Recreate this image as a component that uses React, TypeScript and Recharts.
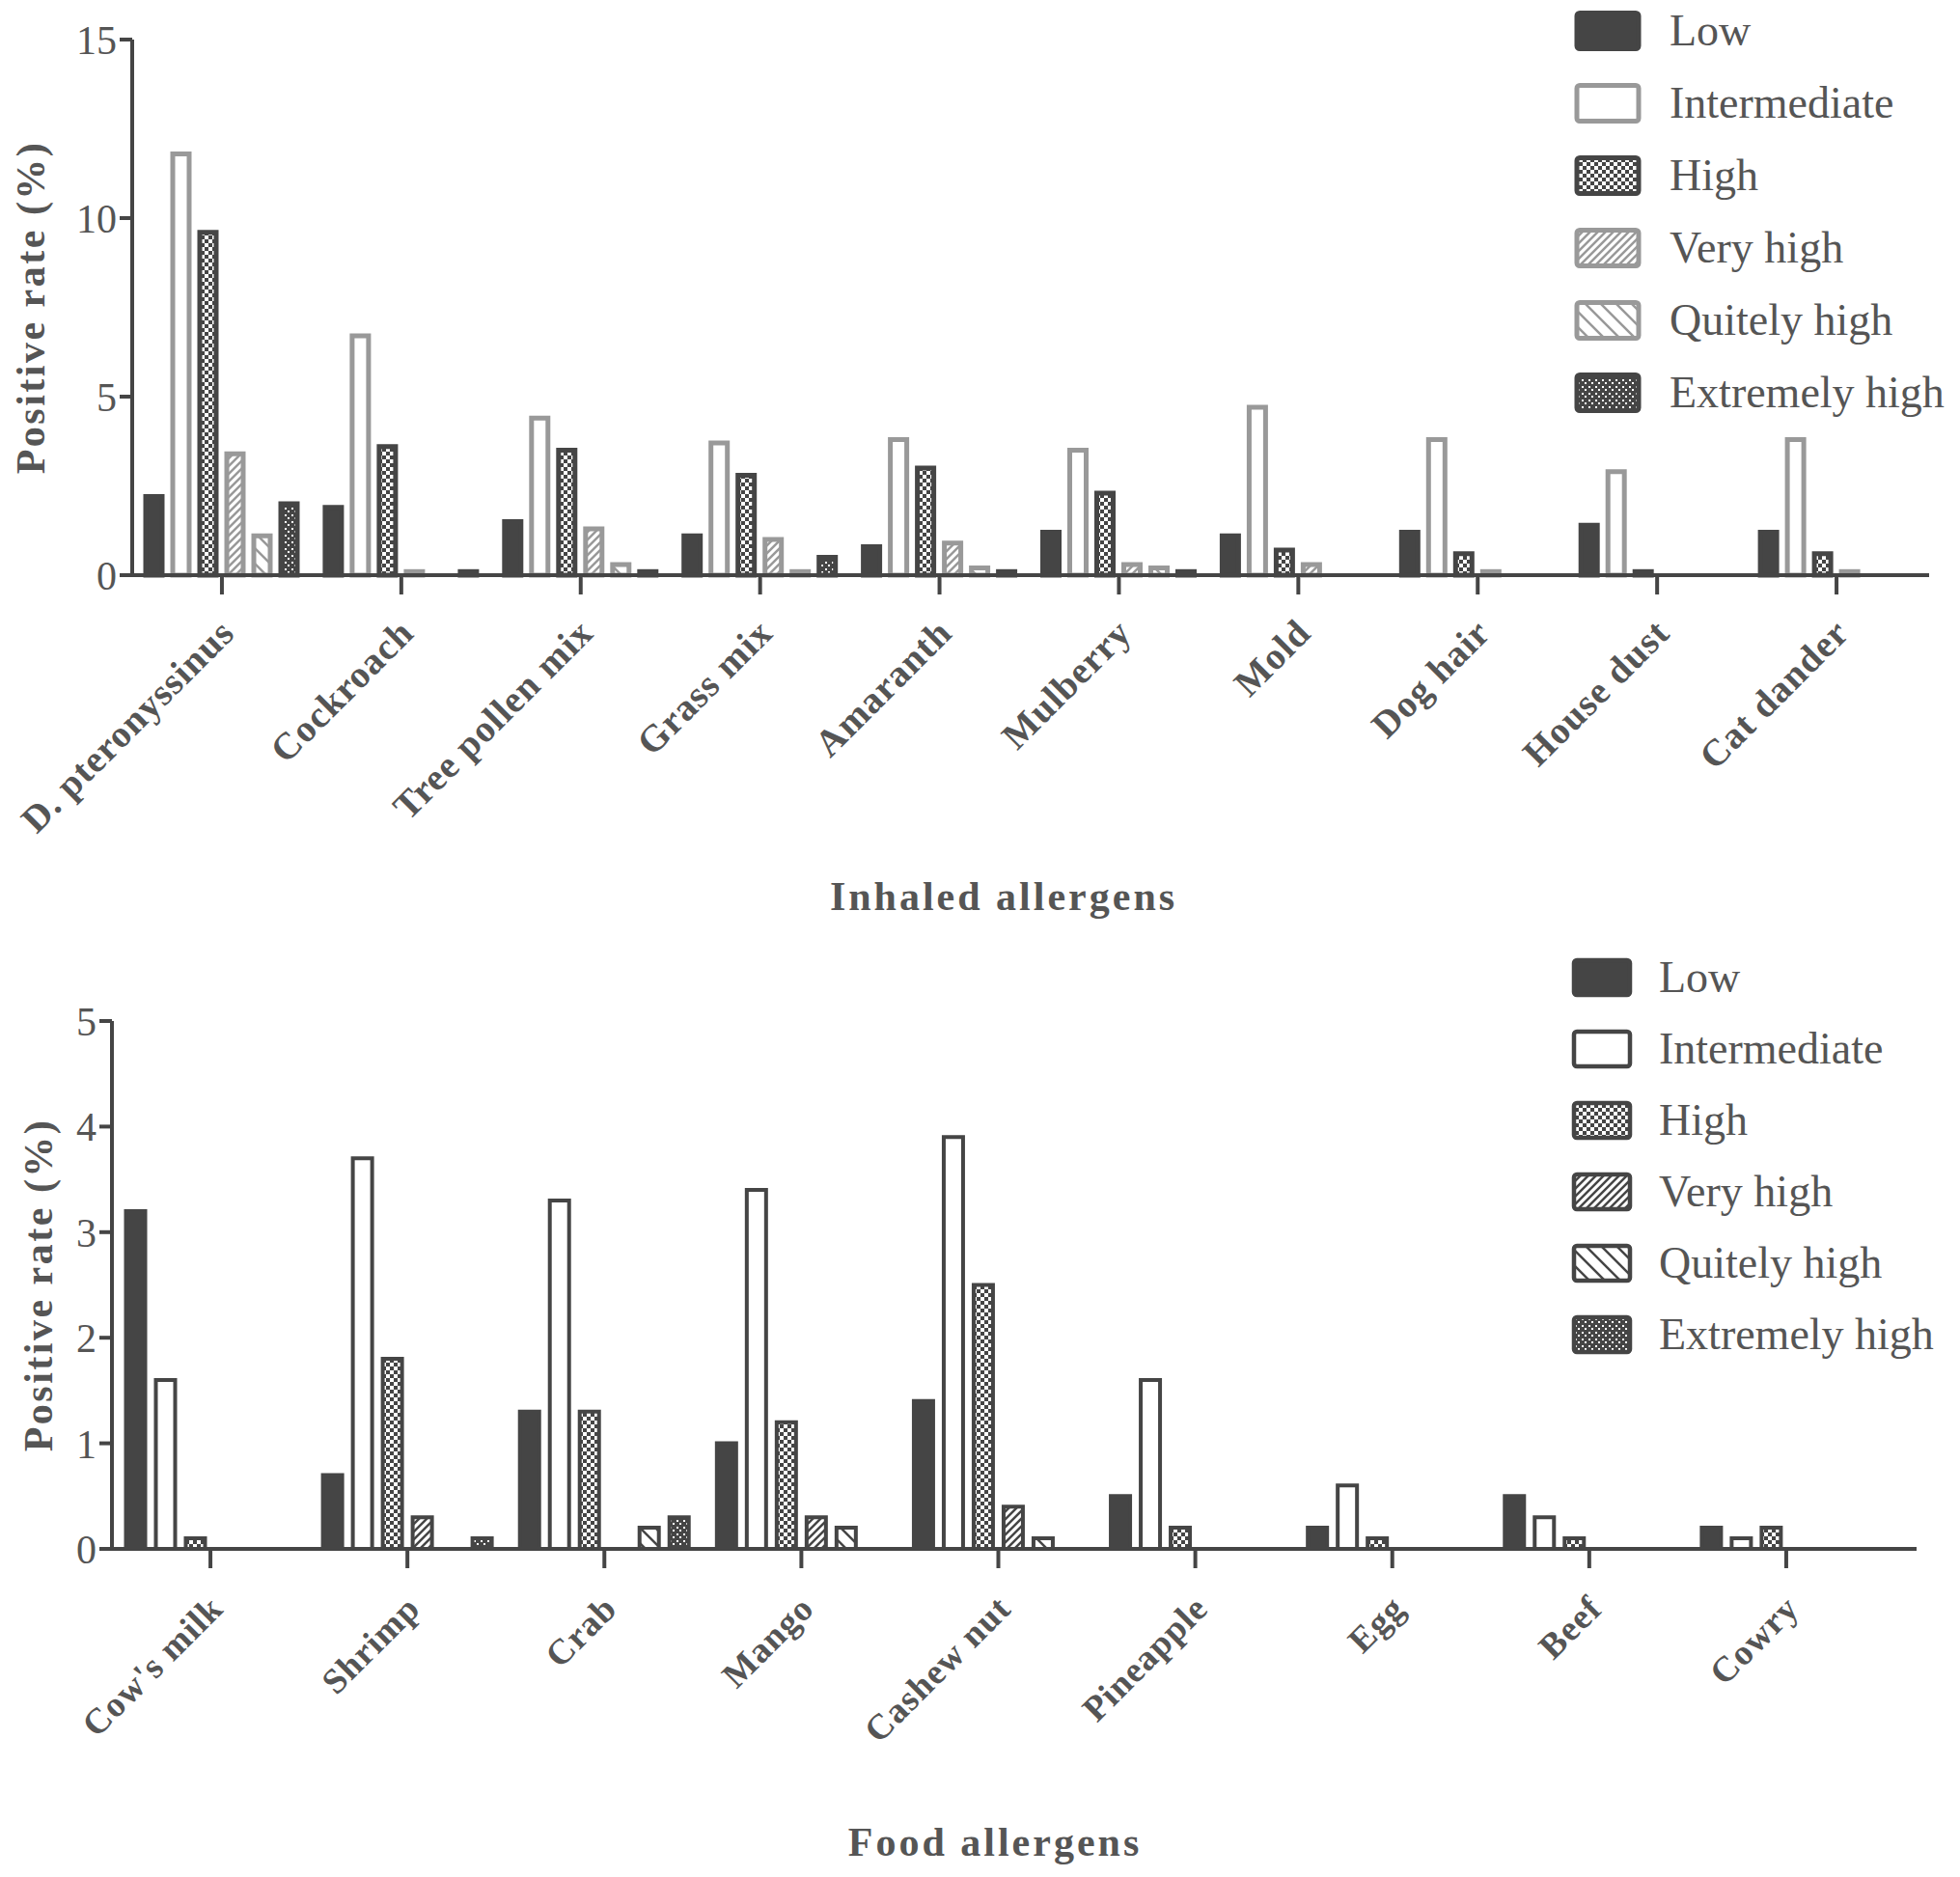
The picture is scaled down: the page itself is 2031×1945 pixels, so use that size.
import React from 'react';
import { BarChart, Bar, XAxis, YAxis } from 'recharts';

const seriesNames = ['Low', 'Intermediate', 'High', 'Very high', 'Quitely high', 'Extremely high'];
const seriesKeys = ['low', 'intermediate', 'high', 'veryHigh', 'quitelyHigh', 'extremelyHigh'];

const inhaledCategories = ['D. pteronyssinus', 'Cockroach', 'Tree pollen mix', 'Grass mix', 'Amaranth', 'Mulberry', 'Mold', 'Dog hair', 'House dust', 'Cat dander'];
const inhaledLow = [2.2, 1.9, 1.5, 1.1, 0.8, 1.2, 1.1, 1.2, 1.4, 1.2];
const inhaledIntermediate = [11.8, 6.7, 4.4, 3.7, 3.8, 3.5, 4.7, 3.8, 2.9, 3.8];
const inhaledHigh = [9.6, 3.6, 3.5, 2.8, 3.0, 2.3, 0.7, 0.6, 0.1, 0.6];
const inhaledVeryHigh = [3.4, 0.1, 1.3, 1.0, 0.9, 0.3, 0.3, 0.1, 0, 0.1];
const inhaledQuitelyHigh = [1.1, 0, 0.3, 0.1, 0.2, 0.2, 0, 0, 0, 0];
const inhaledExtremelyHigh = [2.0, 0.1, 0.1, 0.5, 0.1, 0.1, 0, 0, 0, 0];
const inhaledTicks = [0, 5, 10, 15];

const foodCategories = ["Cow's milk", 'Shrimp', 'Crab', 'Mango', 'Cashew nut', 'Pineapple', 'Egg', 'Beef', 'Cowry'];
const foodLow = [3.2, 0.7, 1.3, 1.0, 1.4, 0.5, 0.2, 0.5, 0.2];
const foodIntermediate = [1.6, 3.7, 3.3, 3.4, 3.9, 1.6, 0.6, 0.3, 0.1];
const foodHigh = [0.1, 1.8, 1.3, 1.2, 2.5, 0.2, 0.1, 0.1, 0.2];
const foodVeryHigh = [0, 0.3, 0, 0.3, 0.4, 0, 0, 0, 0];
const foodQuitelyHigh = [0, 0, 0.2, 0.2, 0.1, 0, 0, 0, 0];
const foodExtremelyHigh = [0, 0.1, 0.3, 0, 0, 0, 0, 0, 0];
const foodTicks = [0, 1, 2, 3, 4, 5];

const buildRows = (cats: string[], cols: number[][]) =>
  cats.map((name, i) => {
    const row: any = { name };
    seriesKeys.forEach((k, j) => (row[k] = cols[j][i]));
    return row;
  });

const inhaledData = buildRows(inhaledCategories, [inhaledLow, inhaledIntermediate, inhaledHigh, inhaledVeryHigh, inhaledQuitelyHigh, inhaledExtremelyHigh]);
const foodData = buildRows(foodCategories, [foodLow, foodIntermediate, foodHigh, foodVeryHigh, foodQuitelyHigh, foodExtremelyHigh]);

const DARK = '#454545';
const GRAY = '#999999';
const TEXT = '#555555';
const FONT = '"Liberation Serif", "Times New Roman", serif';

const topStyles = [
  { fill: DARK, stroke: DARK },
  { fill: '#ffffff', stroke: GRAY },
  { fill: 'url(#hiPat)', stroke: DARK },
  { fill: 'url(#vhGray)', stroke: GRAY },
  { fill: 'url(#qhGray)', stroke: GRAY },
  { fill: 'url(#ehPat)', stroke: DARK },
];
const bottomStyles = [
  { fill: DARK, stroke: DARK },
  { fill: '#ffffff', stroke: DARK },
  { fill: 'url(#hiPat)', stroke: DARK },
  { fill: 'url(#vhDark)', stroke: DARK },
  { fill: 'url(#qhDark)', stroke: DARK },
  { fill: 'url(#ehPat)', stroke: DARK },
];

const RotTick = (props: any) => {
  const { x, y, payload, fs, ls, oy } = props;
  return (
    <g transform={`translate(${x},${y})`}>
      <text
        transform={`translate(15,${oy}) rotate(-45)`}
        textAnchor="end"
        fontFamily={FONT}
        fontWeight="bold"
        fontSize={fs}
        fill={TEXT}
        letterSpacing={ls}
      >
        {payload.value}
      </text>
    </g>
  );
};

const YLabel = (props: any) => {
  const { viewBox, text, lx } = props;
  const cy = viewBox.y + viewBox.height / 2;
  return (
    <text
      transform={`translate(${lx},${cy}) rotate(-90)`}
      textAnchor="middle"
      dominantBaseline="central"
      fontFamily={FONT}
      fontWeight="bold"
      fontSize={42}
      fill={TEXT}
      letterSpacing={2.5}
    >
      {text}
    </text>
  );
};

const XLabel = (props: any) => {
  const { viewBox, text, dx, ly } = props;
  const cx = viewBox.x + viewBox.width / 2 + dx;
  return (
    <text
      x={cx}
      y={ly}
      textAnchor="middle"
      dominantBaseline="central"
      fontFamily={FONT}
      fontWeight="bold"
      fontSize={42}
      fill={TEXT}
      letterSpacing={3}
    >
      {text}
    </text>
  );
};

const Legend = ({ styles, x, textX, y0, step, w, h, sw }: any) => (
  <g>
    {seriesNames.map((n, i) => {
      const cy = y0 + i * step;
      return (
        <g key={n}>
          <rect x={x} y={cy - h / 2} width={w} height={h} rx={3} fill={styles[i].fill} stroke={styles[i].stroke} strokeWidth={sw} />
          <text x={textX} y={cy + 15} fontFamily={FONT} fontSize={46} fill={TEXT}>
            {n}
          </text>
        </g>
      );
    })}
  </g>
);

export default function App() {
  return (
    <div style={{ position: 'absolute', left: 0, top: 0, width: 2031, height: 1945, background: '#fff' }}>
      <svg width={0} height={0} style={{ position: 'absolute' }}>
        <defs>
          <pattern id="hiPat" patternUnits="userSpaceOnUse" width={8} height={8}>
            <rect width={8} height={8} fill={DARK} />
            <rect x={0} y={0} width={4} height={4} fill="#fff" />
            <rect x={4} y={4} width={4} height={4} fill="#fff" />
          </pattern>
          <pattern id="ehPat" patternUnits="userSpaceOnUse" width={7} height={7}>
            <rect width={7} height={7} fill={DARK} />
            <rect x={1} y={1} width={2} height={2} fill="#fff" />
            <rect x={4} y={4} width={2} height={2} fill="#fff" />
          </pattern>
          <pattern id="vhGray" patternUnits="userSpaceOnUse" width={8} height={8}>
            <rect width={8} height={8} fill="#fff" />
            <path d="M-2,10 L10,-2 M-2,2 L2,-2 M6,10 L10,6" stroke={GRAY} strokeWidth={2.5} />
          </pattern>
          <pattern id="vhDark" patternUnits="userSpaceOnUse" width={8} height={8}>
            <rect width={8} height={8} fill="#fff" />
            <path d="M-2,10 L10,-2 M-2,2 L2,-2 M6,10 L10,6" stroke={DARK} strokeWidth={2.5} />
          </pattern>
          <pattern id="qhGray" patternUnits="userSpaceOnUse" width={16} height={16}>
            <rect width={16} height={16} fill="#fff" />
            <path d="M-2,-2 L18,18 M-10,6 L10,26 M6,-10 L26,10" stroke={GRAY} strokeWidth={2.5} />
          </pattern>
          <pattern id="qhDark" patternUnits="userSpaceOnUse" width={16} height={16}>
            <rect width={16} height={16} fill="#fff" />
            <path d="M-2,-2 L18,18 M-10,6 L10,26 M6,-10 L26,10" stroke={DARK} strokeWidth={2.5} />
          </pattern>
        </defs>
      </svg>

      <div style={{ position: 'absolute', left: 0, top: 0 }}>
        <BarChart
          width={2031}
          height={980}
          data={inhaledData}
          margin={{ top: 41, right: 32, bottom: 84, left: 0 }}
          barCategoryGap={14}
          barGap={11}
        >
          <YAxis
            width={137}
            domain={[0, 15]}
            ticks={inhaledTicks}
            interval={0}
            tickSize={13}
            tickMargin={3}
            axisLine={{ stroke: DARK, strokeWidth: 4 }}
            tickLine={{ stroke: DARK, strokeWidth: 4 }}
            tick={{ fill: TEXT, fontSize: 42, fontFamily: FONT }}
            label={<YLabel text="Positive rate (%)" lx={32} />}
          />
          <XAxis
            dataKey="name"
            height={300}
            interval={0}
            padding={{ left: 0, right: 3 }}
            tickSize={20}
            tickMargin={0}
            axisLine={{ stroke: DARK, strokeWidth: 4 }}
            tickLine={{ stroke: DARK, strokeWidth: 4 }}
            tick={<RotTick fs={39} ls={1} oy={42} />}
            label={<XLabel text="Inhaled allergens" dx={-28} ly={929} />}
          />
          {seriesKeys.map((k, i) => (
            <Bar
              key={k}
              dataKey={k}
              name={seriesNames[i]}
              fill={topStyles[i].fill}
              stroke={topStyles[i].stroke}
              strokeWidth={5}
              isAnimationActive={false}
            />
          ))}
        </BarChart>
      </div>

      <div style={{ position: 'absolute', left: 0, top: 1000 }}>
        <BarChart
          width={2031}
          height={945}
          data={foodData}
          margin={{ top: 58, right: 45, bottom: 40, left: 0 }}
          barCategoryGap={14.5}
          barGap={11}
        >
          <YAxis
            width={116}
            domain={[0, 5]}
            ticks={foodTicks}
            interval={0}
            tickSize={13}
            tickMargin={3}
            axisLine={{ stroke: DARK, strokeWidth: 4 }}
            tickLine={{ stroke: DARK, strokeWidth: 4 }}
            tick={{ fill: TEXT, fontSize: 42, fontFamily: FONT }}
            label={<YLabel text="Positive rate (%)" lx={40} />}
          />
          <XAxis
            dataKey="name"
            height={300}
            interval={0}
            padding={{ left: 0, right: 33 }}
            tickSize={20}
            tickMargin={0}
            axisLine={{ stroke: DARK, strokeWidth: 4 }}
            tickLine={{ stroke: DARK, strokeWidth: 4 }}
            tick={<RotTick fs={37} ls={1} oy={44} />}
            label={<XLabel text="Food allergens" dx={-20} ly={909} />}
          />
          {seriesKeys.map((k, i) => (
            <Bar
              key={k}
              dataKey={k}
              name={seriesNames[i]}
              fill={bottomStyles[i].fill}
              stroke={bottomStyles[i].stroke}
              strokeWidth={4}
              isAnimationActive={false}
            />
          ))}
        </BarChart>
      </div>

      <svg width={2031} height={1945} style={{ position: 'absolute', left: 0, top: 0, pointerEvents: 'none' }}>
        <Legend styles={topStyles} x={1634} textX={1730} y0={32} step={75} w={64} h={37} sw={5} />
        <Legend styles={bottomStyles} x={1631} textX={1719} y0={1013} step={74} w={58} h={36} sw={4.5} />
      </svg>
    </div>
  );
}
